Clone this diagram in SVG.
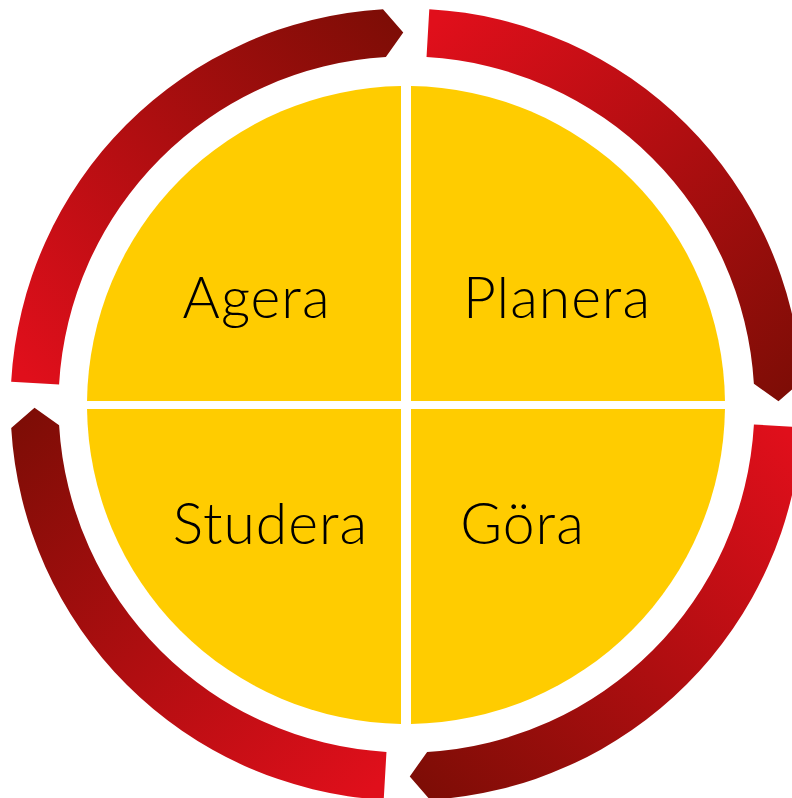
<svg xmlns="http://www.w3.org/2000/svg" width="792" height="798" viewBox="0 0 792 798">
  <defs>
    <linearGradient id="arcGrad" gradientUnits="userSpaceOnUse" x1="428" y1="30" x2="780" y2="400">
      <stop offset="0" stop-color="#E00F1B"/>
      <stop offset="1" stop-color="#7E0D06"/>
    </linearGradient>
    <path id="arc" d="M429.29,9.16 A396,396 0 0 1 801.80,381.01 L778.49,401.25 L753.89,383.86 A348,348 0 0 0 426.53,57.08 Z"/>
  </defs>
  <style>
    .quad { fill: #FFCC00; }
    .lbl { font-family: Lato, "Open Sans", "Liberation Sans", sans-serif; font-weight: 300; font-size: 57px; letter-spacing: 1px; fill: #000000; text-anchor: middle; }
    .arrow { fill: url(#arcGrad); }
  </style>
  <rect width="792" height="798" fill="#FFFFFF"/>
  <g id="connectors">
    <use href="#arc" class="arrow"/>
    <use href="#arc" class="arrow" transform="rotate(90 406.5 404.5)"/>
    <use href="#arc" class="arrow" transform="rotate(180 406.5 404.5)"/>
    <use href="#arc" class="arrow" transform="rotate(270 406.5 404.5)"/>
  </g>
  <g id="agera">
    <path class="quad" d="M401,401 V86.04 A319,319 0 0 0 87.03,401 Z"/>
    <text class="lbl" x="256.5" y="318">Agera</text>
  </g>
  <g id="planera">
    <path class="quad" d="M411,401 H724.97 A319,319 0 0 0 411,86.04 Z"/>
    <text class="lbl" x="557" y="318">Planera</text>
  </g>
  <g id="studera">
    <path class="quad" d="M401,409 V723.96 A319,319 0 0 1 87.03,409 Z"/>
    <text class="lbl" x="270.5" y="544">Studera</text>
  </g>
  <g id="gora">
    <path class="quad" d="M411,409 H724.97 A319,319 0 0 1 411,723.96 Z"/>
    <text class="lbl" x="522.5" y="544">Göra</text>
  </g>
</svg>
